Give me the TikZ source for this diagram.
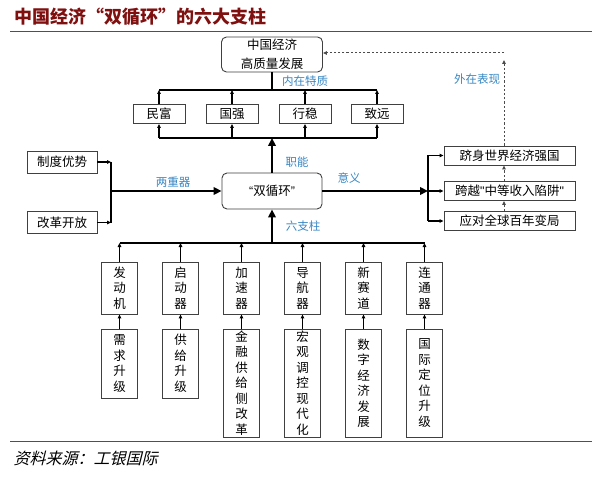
\documentclass[tikz,border=0pt]{standalone}
\usepackage{fontspec}
\setmainfont{Noto Sans CJK SC}
\newfontfamily\srcfont[FakeSlant=0.25]{Noto Sans CJK SC}
\newfontfamily\latinq{Liberation Sans}
\usetikzlibrary{arrows.meta}
\definecolor{titlered}{RGB}{128,16,16}
\definecolor{noteblue}{RGB}{55,135,195}
\definecolor{rulebrown}{RGB}{105,70,70}

\begin{document}
\begin{tikzpicture}[
    x=1pt, y=-1pt,
    cell/.style={draw=black!75, line width=0.9pt, fill=white, inner sep=0pt, font=\fontsize{12.5}{15.5}\selectfont},
    tall/.style={cell, align=center, minimum width=36pt},
    roundcell/.style={cell, rounded corners=5pt, align=center},
    note/.style={text=noteblue, font=\fontsize{11.5}{13}\selectfont},
    link/.style={line width=1.1pt},
    arr/.style={line width=1.1pt, -{Triangle[length=4pt,width=3.5pt]}},
    bigarr/.style={line width=2.8pt, -{Triangle[length=8pt,width=7.5pt]}},
    dasharr/.style={line width=1pt, black!70, dash pattern=on 2.2pt off 2pt, -{Triangle[length=4pt,width=3.5pt]}}
  ]
  \useasboundingbox (0,0) rectangle (596,478);
  \fill[white] (0,0) rectangle (596,478);

  \node[anchor=west, text=titlered, font=\fontsize{18}{20}\selectfont\bfseries] (title) at (11,17) {中国经济“双循环”的六大支柱};
  \draw[rulebrown, line width=1pt] (10,32) -- (592,32);
  \draw[rulebrown, line width=1pt] (10,441) -- (592,441);
  \node[anchor=west, font=\srcfont\fontsize{16}{18}\selectfont] (src) at (10,458) {资料来源：工银国际};

  \node[roundcell, minimum width=101pt, minimum height=35pt, font=\fontsize{12.5}{19}\selectfont] (hq) at (272,54.5) {中国经济\\高质量发展};
  \node[cell, minimum width=52pt, minimum height=19pt] (mf) at (159,114) {民富};
  \node[cell, minimum width=52pt, minimum height=19pt] (gq) at (232,114) {国强};
  \node[cell, minimum width=52pt, minimum height=19pt] (xw) at (305,114) {行稳};
  \node[cell, minimum width=52pt, minimum height=19pt] (zy) at (377,114) {致远};
  \node[roundcell, minimum width=100pt, minimum height=36pt] (sx) at (272,191) {{\latinq “}双循环{\latinq ”}};

  \node[cell, minimum width=70pt, minimum height=22pt] (zd) at (62,162) {制度优势};
  \node[cell, minimum width=70pt, minimum height=22pt] (gg) at (62,222.5) {改革开放};

  \node[cell, minimum width=131pt, minimum height=19pt] (r1) at (509.5,155.5) {跻身世界经济强国};
  \node[cell, minimum width=131pt, minimum height=19pt] (r2) at (509.5,191) {跨越{\latinq "}中等收入陷阱{\latinq "}};
  \node[cell, minimum width=131pt, minimum height=19pt] (r3) at (509.5,221) {应对全球百年变局};

  \node[tall, minimum height=52pt] (p1) at (119.5,288) {发\\动\\机};
  \node[tall, minimum height=52pt] (p2) at (180.5,288) {启\\动\\器};
  \node[tall, minimum height=52pt] (p3) at (241.5,288) {加\\速\\器};
  \node[tall, minimum height=52pt] (p4) at (302.5,288) {导\\航\\器};
  \node[tall, minimum height=52pt] (p5) at (363.5,288) {新\\赛\\道};
  \node[tall, minimum height=52pt] (p6) at (424.5,288) {连\\通\\器};
  \node[tall, minimum height=69pt] (q1) at (119.5,363.5) {需\\求\\升\\级};
  \node[tall, minimum height=69pt] (q2) at (180.5,363.5) {供\\给\\升\\级};
  \node[tall, minimum height=108pt] (q3) at (241.5,383) {金\\融\\供\\给\\侧\\改\\革};
  \node[tall, minimum height=108pt] (q4) at (302.5,383) {宏\\观\\调\\控\\现\\代\\化};
  \node[tall, minimum height=108pt] (q5) at (363.5,383) {数\\字\\经\\济\\发\\展};
  \node[tall, minimum height=108pt] (q6) at (424.5,383) {国\\际\\定\\位\\升\\级};

  \node[note] (nzt) at (305,81) {内在特质};
  \node[note] (wzb) at (477,79) {外在表现};
  \node[note] (zn) at (297,162) {职能};
  \node[note] (yy) at (349,178) {意义};
  \node[note] (lzq) at (173,182) {两重器};
  \node[note] (lzz) at (303,226) {六支柱};

  \coordinate (ubus) at (272,90);
  \coordinate (lbus) at (272,138);
  \coordinate (bbus) at (272,243);
  \coordinate (ljoin) at (111,191);
  \coordinate (rjoin) at (428,191);
  \coordinate (vtop) at (504,60);
  \coordinate (corner) at (504,53);

  \draw[link] (hq) -- (hq |- ubus);
  \draw[link] (mf |- ubus) -- (zy |- ubus);
  \draw[link] (mf |- lbus) -- (zy |- lbus);
  \draw[arr] (mf) -- (mf |- ubus);
  \draw[arr] (gq) -- (gq |- ubus);
  \draw[arr] (xw) -- (xw |- ubus);
  \draw[arr] (zy) -- (zy |- ubus);
  \draw[arr] (mf |- lbus) -- (mf);
  \draw[arr] (gq |- lbus) -- (gq);
  \draw[arr] (xw |- lbus) -- (xw);
  \draw[arr] (zy |- lbus) -- (zy);
  \draw[bigarr] (sx) -- (sx |- lbus);

  \draw[arr] (zd) -- (zd -| ljoin);
  \draw[arr] (gg) -- (gg -| ljoin);
  \draw[link] (zd -| ljoin) -- (gg -| ljoin);
  \draw[bigarr] (ljoin) -- (sx);

  \draw[bigarr] (sx) -- (rjoin);
  \draw[link] (r1 -| rjoin) -- (r3 -| rjoin);
  \draw[arr] (r1 -| rjoin) -- (r1);
  \draw[arr] (rjoin) -- (r2);
  \draw[arr] (r3 -| rjoin) -- (r3);

  \draw[dasharr] (r3.north -| vtop) -- (r2.south -| vtop);
  \draw[dasharr] (r2.north -| vtop) -- (r1.south -| vtop);
  \draw[dasharr] (r1.north -| vtop) -- (vtop);
  \draw[dasharr] (corner) -- (hq.east |- corner);

  \draw[link] (p1 |- bbus) -- (p6 |- bbus);
  \draw[bigarr] (sx |- bbus) -- (sx);
  \draw[arr] (p1) -- (p1 |- bbus);
  \draw[arr] (p2) -- (p2 |- bbus);
  \draw[arr] (p3) -- (p3 |- bbus);
  \draw[arr] (p4) -- (p4 |- bbus);
  \draw[arr] (p5) -- (p5 |- bbus);
  \draw[arr] (p6) -- (p6 |- bbus);
  \draw[arr] (q1) -- (p1);
  \draw[arr] (q2) -- (p2);
  \draw[arr] (q3) -- (p3);
  \draw[arr] (q4) -- (p4);
  \draw[arr] (q5) -- (p5);
  \draw[arr] (q6) -- (p6);
\end{tikzpicture}
\end{document}
